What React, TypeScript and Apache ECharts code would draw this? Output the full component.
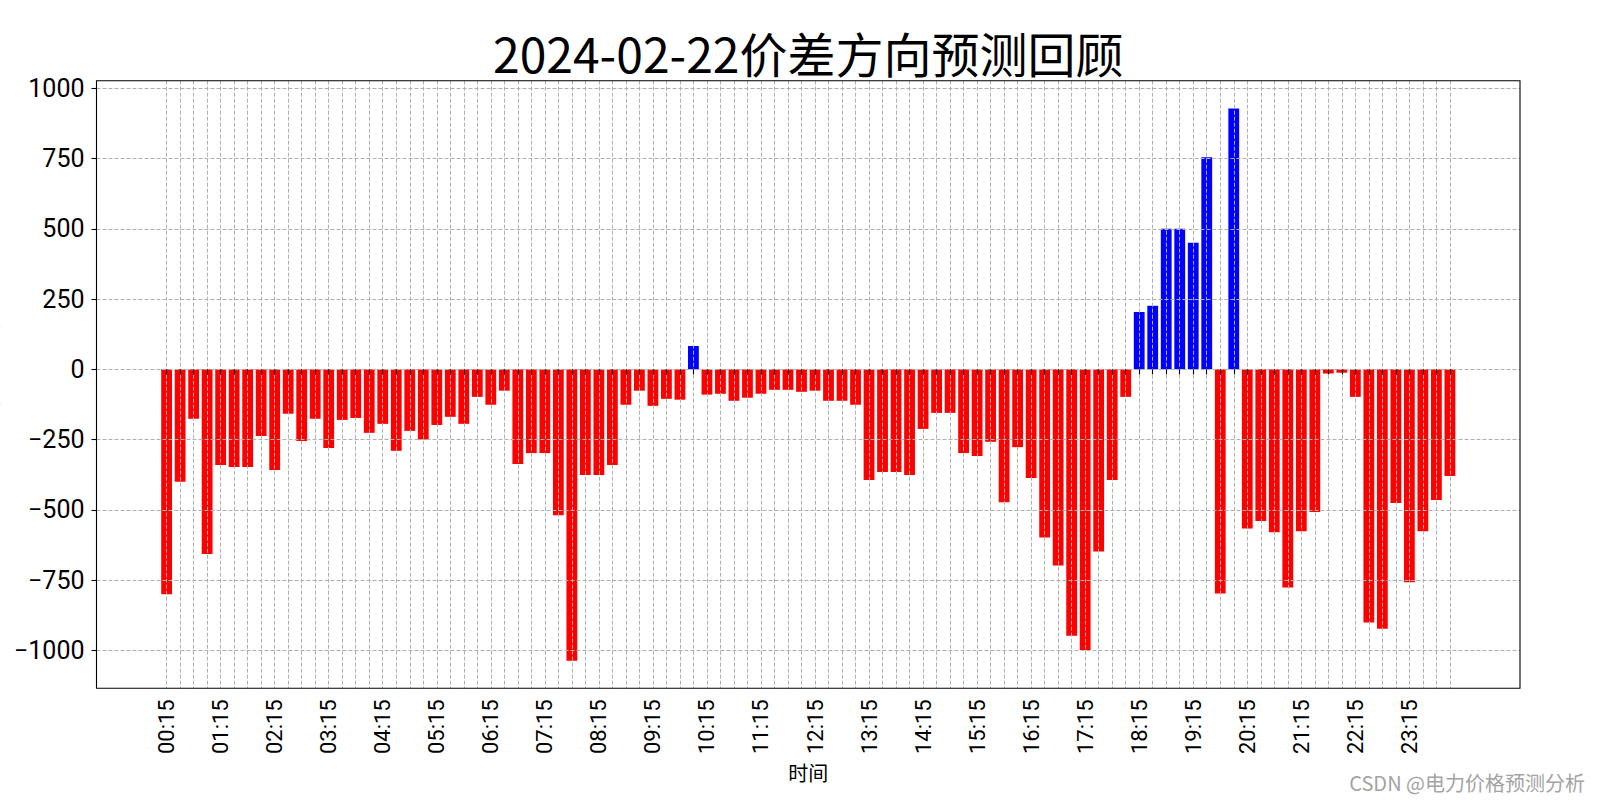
import React, { useEffect, useRef } from "react";
import * as echarts from "echarts";

const TITLE = "2024-02-22价差方向预测回顾";
const X_NAME = "时间";
const Y_NAME = "价差(元/MWh)";
const WATERMARK = "CSDN @电力价格预测分析";

const TIMES = (
  "00:15 00:30 00:45 01:00 01:15 01:30 01:45 02:00 02:15 02:30 02:45 03:00 " +
  "03:15 03:30 03:45 04:00 04:15 04:30 04:45 05:00 05:15 05:30 05:45 06:00 " +
  "06:15 06:30 06:45 07:00 07:15 07:30 07:45 08:00 08:15 08:30 08:45 09:00 " +
  "09:15 09:30 09:45 10:00 10:15 10:30 10:45 11:00 11:15 11:30 11:45 12:00 " +
  "12:15 12:30 12:45 13:00 13:15 13:30 13:45 14:00 14:15 14:30 14:45 15:00 " +
  "15:15 15:30 15:45 16:00 16:15 16:30 16:45 17:00 17:15 17:30 17:45 18:00 " +
  "18:15 18:30 18:45 19:00 19:15 19:30 19:45 20:00 20:15 20:30 20:45 21:00 " +
  "21:15 21:30 21:45 22:00 22:15 22:30 22:45 23:00 23:15 23:30 23:45 24:00"
).split(" ");

const DIFF = [
  -800, -400, -176, -657,
  -340, -348, -348, -237,
  -358, -158, -255, -176,
  -280, -180, -173, -226,
  -194, -290, -219, -250,
  -198, -169, -194, -98,
  -126, -76, -337, -298,
  -298, -519, -1037, -376,
  -376, -340, -126, -76,
  -130, -105, -108, 83,
  -90, -87, -112, -101,
  -87, -73, -73, -80,
  -76, -112, -112, -126,
  -394, -365, -365, -376,
  -212, -155, -155, -298,
  -308, -258, -473, -277,
  -387, -598, -698, -948,
  -999, -648, -394, -98,
  204, 226, 500, 500,
  450, 755, -798, 928,
  -566, -540, -580, -776,
  -576, -508, -15, -12,
  -98, -901, -923, -476,
  -758, -576, -465, -380,
];

const Y_TICK_MIN = -1000;
const Y_TICK_MAX = 1000;
const Y_TICK_STEP = 250;
const Y_MIN = -1135;
const Y_MAX = 1027;
const X_MIN = -5.19;
const X_MAX = 100.19;

const POS_COLOR = "#0000ff";
const NEG_COLOR = "#ff0000";
const GRID_COLOR = "#b0b0b0";

const FRAME = { left: 96.5, right: 1520, top: 80.7, bottom: 688.3 };

function App() {
  const ref = useRef<HTMLDivElement>(null);

  useEffect(() => {
    document.body.style.margin = "0";
    document.body.style.overflow = "hidden";
    if (!ref.current) return;
    const chart = echarts.init(ref.current, null, { renderer: "svg" });

    const pxX = (FRAME.right - FRAME.left) / (X_MAX - X_MIN);
    const barsLeft = FRAME.left + (0 - X_MIN) * pxX;
    const barsRight = FRAME.left + (TIMES.length - 1 - X_MIN) * pxX;
    const pxY = (FRAME.bottom - FRAME.top) / (Y_MAX - Y_MIN);
    const ticksTop = FRAME.top + (Y_MAX - Y_TICK_MAX) * pxY;
    const ticksBottom = FRAME.top + (Y_MAX - Y_TICK_MIN) * pxY;

    const gridLine = { color: GRID_COLOR, width: 1, type: [4, 2] as any };
    const tickLine = { color: "#000", width: 1.1 };

    const option: any = {
      animation: false,
      backgroundColor: "#ffffff",
      grid: [
        {
          left: FRAME.left,
          top: FRAME.top,
          width: FRAME.right - FRAME.left,
          height: FRAME.bottom - FRAME.top,
          show: true,
          borderColor: "#000",
          borderWidth: 1.1,
          backgroundColor: "transparent",
          z: 6,
        },
        {
          left: barsLeft,
          top: FRAME.top,
          width: barsRight - barsLeft,
          height: FRAME.bottom - FRAME.top,
        },
        {
          left: FRAME.left,
          top: ticksTop,
          width: FRAME.right - FRAME.left,
          height: ticksBottom - ticksTop,
        },
      ],
      xAxis: [
        { gridIndex: 0, type: "value", show: false, min: 0, max: 1 },
        {
          gridIndex: 1,
          type: "category",
          data: TIMES,
          boundaryGap: false,
          z: 5,
          axisLine: { show: false },
          axisTick: { show: true, interval: 0, length: 5, lineStyle: tickLine },
          axisLabel: {
            interval: 3,
            rotate: 90,
            margin: 11,
            fontSize: 22,
            fontFamily: "Roboto",
            color: "#000",
          },
          splitLine: { show: true, interval: 0, lineStyle: gridLine },
          name: X_NAME,
          nameLocation: "middle",
          nameGap: 74,
          nameTextStyle: {
            fontSize: 20,
            fontFamily: "Noto Sans CJK SC",
            color: "#000",
          },
        },
        { gridIndex: 2, type: "value", show: false, min: 0, max: 1 },
      ],
      yAxis: [
        { gridIndex: 0, type: "value", show: false, min: 0, max: 1 },
        { gridIndex: 1, type: "value", show: false, min: Y_MIN, max: Y_MAX },
        {
          gridIndex: 2,
          type: "value",
          min: Y_TICK_MIN,
          max: Y_TICK_MAX,
          interval: Y_TICK_STEP,
          z: 5,
          axisLine: { show: false },
          axisTick: { show: true, length: 5, lineStyle: tickLine },
          axisLabel: {
            margin: 12,
            fontSize: 25,
            fontFamily: "Roboto",
            color: "#000",
            formatter: (v: number) => (v < 0 ? "\u2212" + Math.abs(v) : String(v)),
          },
          splitLine: { show: true, lineStyle: gridLine },
        },
      ],
      series: [
        {
          type: "bar",
          xAxisIndex: 1,
          yAxisIndex: 1,
          barWidth: "80%",
          clip: false,
          z: 2,
          data: DIFF.map((v) => ({
            value: v,
            itemStyle: { color: v >= 0 ? POS_COLOR : NEG_COLOR },
          })),
        },
      ],
      graphic: [
        {
          type: "text",
          x: (FRAME.left + FRAME.right) / 2,
          y: 52,
          style: {
            text: TITLE,
            fontSize: 48,
            fontFamily: "Noto Sans CJK SC",
            fill: "#000",
            align: "center",
            verticalAlign: "middle",
          },
        },
        {
          type: "text",
          x: -3,
          y: (FRAME.top + FRAME.bottom) / 2,
          rotation: Math.PI / 2,
          style: {
            text: Y_NAME,
            fontSize: 20,
            fontFamily: "Noto Sans CJK SC",
            fill: "#000",
            align: "center",
            verticalAlign: "bottom",
          },
        },
        {
          type: "text",
          x: 1585,
          y: 782,
          style: {
            text: WATERMARK,
            fontSize: 20,
            fontFamily: "Noto Sans CJK SC",
            fill: "#a3a3a3",
            align: "right",
            verticalAlign: "middle",
          },
        },
      ],
    };

    chart.setOption(option);
    return () => chart.dispose();
  }, []);

  return <div ref={ref} style={{ width: 1600, height: 800 }} />;
}

export default App;
